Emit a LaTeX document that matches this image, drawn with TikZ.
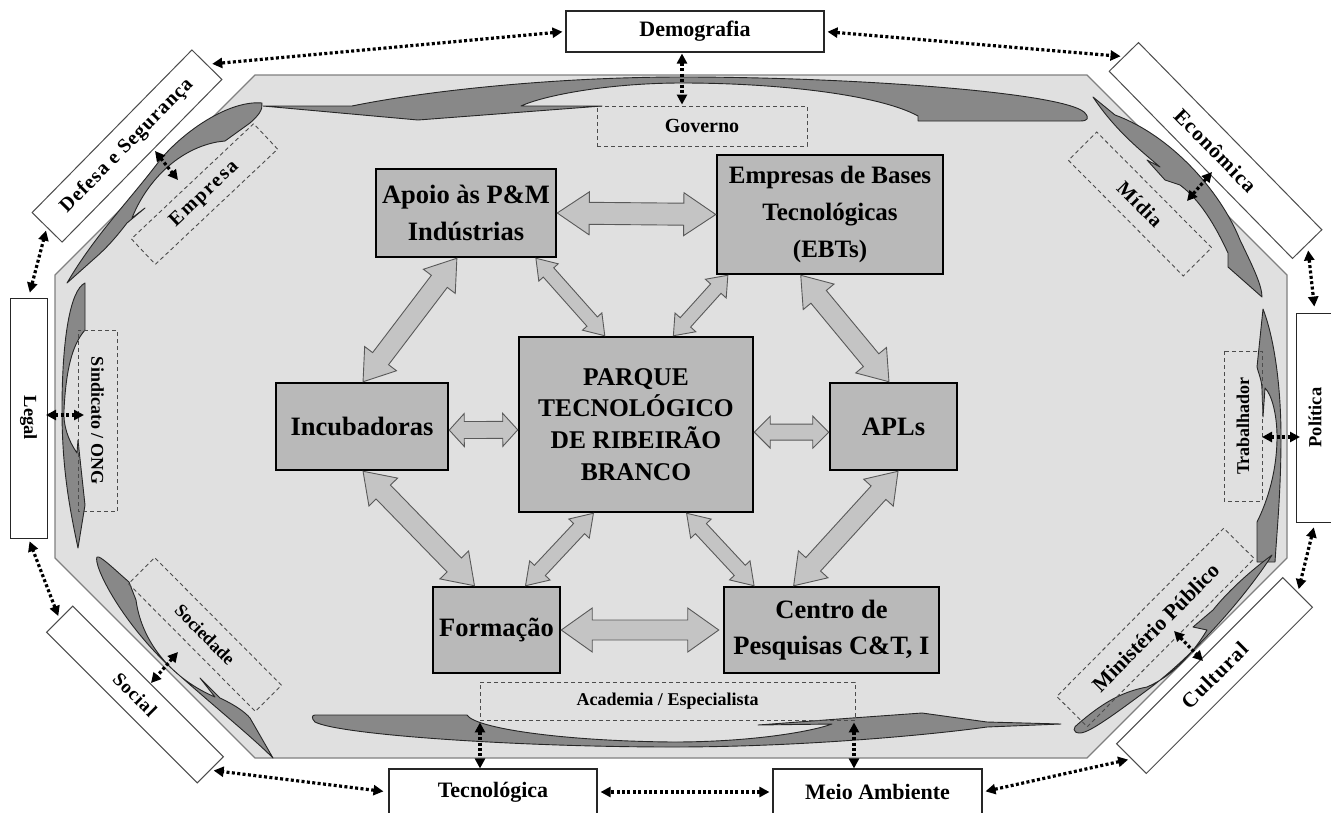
\documentclass[tikz,border=0pt]{standalone}
\usepackage{fontspec}
\setmainfont{Liberation Serif}
\newfontfamily\lsA[LetterSpace=5]{Liberation Serif}
\newfontfamily\lsB[LetterSpace=9]{Liberation Serif}
\usetikzlibrary{calc,arrows.meta}
\definecolor{octfill}{RGB}{224,224,224}
\definecolor{boxfill}{RGB}{185,185,185}
\definecolor{arrfill}{RGB}{196,196,196}
\definecolor{swfill}{RGB}{136,136,136}
\newcommand\fs[2]{\fontsize{#1}{#2}\selectfont}
\tikzset{
  cbox/.style={draw=black, line width=2.5pt, fill=boxfill, inner sep=0pt, align=center, font=\bfseries\fs{26.5}{36.7}},
  obox/.style={draw=black!85, line width=1.1pt, fill=white, inner sep=0pt, font=\bfseries\fs{22}{26}},
  rbox/.style={draw=black!70, line width=1pt, fill=white, inner sep=0pt},
  dbox/.style={draw=black!70, dash pattern=on 4pt off 3pt, line width=0.9pt, inner sep=0pt},
  sw/.style={fill=swfill, draw=black!85, line width=0.9pt, line join=round},
  oct/.style={fill=octfill, draw=black!50, line width=1.2pt},
  dotarr/.style={line width=3.2pt, dash pattern=on 3pt off 2.4pt, {Triangle[length=10pt,width=10pt]}-{Triangle[length=10pt,width=10pt]}},
  barr/.style={fill=arrfill, draw=black!65, line width=0.9pt, line join=miter}
}
% block double arrow: #1,#2 coordinate names; #3 shaft half width; #4 head half width; #5 head length
\newcommand\barrow[5]{%
  \draw[barr] (#1) -- ($(#1)!#5pt!(#2)!#4pt!90:(#2)$) -- ($(#1)!#5pt!(#2)!#3pt!90:(#2)$)
   -- ($(#2)!#5pt!(#1)!#3pt!-90:(#1)$) -- ($(#2)!#5pt!(#1)!#4pt!-90:(#1)$) -- (#2)
   -- ($(#2)!#5pt!(#1)!#4pt!90:(#1)$) -- ($(#2)!#5pt!(#1)!#3pt!90:(#1)$)
   -- ($(#1)!#5pt!(#2)!#3pt!-90:(#2)$) -- ($(#1)!#5pt!(#2)!#4pt!-90:(#2)$) -- cycle;}
\begin{document}
\begin{tikzpicture}[x=1pt,y=-1pt]
\useasboundingbox (0,0) rectangle (1331,812);
\fill[white] (0,0) rectangle (1331,812);
% octagon
\draw[oct] (255,75) -- (1087,75) -- (1287,275) -- (1287,558) -- (1087,758) -- (255,758) -- (55,558) -- (55,275) -- cycle;
% swooshes
\draw[sw] (263,106) -- (352,106) .. controls (430,90) and (560,77) .. (682,77) .. controls (850,77) and (1060,92) .. (1084,112) .. controls (1090,118) and (1088,121) .. (1080,121) -- (918,121) -- (918,116) .. controls (880,95) and (780,83) .. (682,83) .. controls (610,83) and (545,95) .. (521,106) -- (602,106) -- (418,120) -- cycle;
\draw[sw] (262,103) .. controls (230,100) and (185,130) .. (160,160) .. controls (130,200) and (95,235) .. (67,283) -- (95,258) .. controls (110,245) and (120,232) .. (127,223) -- (145,208) -- (132,218) .. controls (145,185) and (175,150) .. (217,142) -- (225,141) -- (250,123) .. controls (258,116) and (263,110) .. (262,103) -- cycle;
\draw[sw] (85,283) .. controls (70,290) and (62,340) .. (62,410) .. controls (62,470) and (70,510) .. (78,548) -- (85,505) -- (81,468) -- (78,440) -- (77,453) .. controls (68,440) and (63,425) .. (64,410) .. controls (66,370) and (72,345) .. (85,330) -- cycle;
\draw[sw] (1263,309) .. controls (1275,340) and (1281,390) .. (1281,437) .. controls (1281,490) and (1277,530) .. (1275,562) -- (1257,562) -- (1257,522) .. controls (1268,500) and (1277,470) .. (1277,437) .. controls (1277,415) and (1272,395) .. (1265,388) -- (1263,417) -- (1262,390) .. controls (1262,380) and (1258,372) .. (1257,367) -- cycle;
\draw[sw] (1272,555) .. controls (1250,590) and (1200,650) .. (1150,688) .. controls (1120,710) and (1090,733) .. (1080,733) .. controls (1072,733) and (1073,727) .. (1078,724) .. controls (1100,705) and (1120,692) .. (1147,687) .. controls (1175,675) and (1195,650) .. (1207,630) -- (1193,627) -- (1213,610) .. controls (1225,595) and (1245,575) .. (1272,555) -- cycle;
\draw[sw] (315,715) -- (467,715) .. controls (475,728) and (560,741) .. (673,742) .. controls (750,742) and (810,732) .. (832,724) -- (758,725) -- (852,718) -- (922,713) -- (987,722) -- (1061,724) -- (987,727) .. controls (930,735) and (800,747) .. (673,747) .. controls (520,747) and (340,735) .. (315,722) .. controls (311,718) and (312,715) .. (315,715) -- cycle;
\draw[sw] (97,557) .. controls (93,565) and (120,620) .. (170,667) .. controls (210,703) and (250,735) .. (273,758) -- (250,718) .. controls (245,712) and (235,705) .. (220,698) -- (200,678) -- (215,697) .. controls (175,680) and (142,645) .. (136,600) -- (129,582) .. controls (115,570) and (100,555) .. (97,557) -- cycle;
\draw[sw] (1093,97) -- (1115,115) .. controls (1170,135) and (1220,190) .. (1240,240) .. controls (1252,265) and (1262,285) .. (1262,297) -- (1228,267) -- (1228,253) .. controls (1215,225) and (1200,200) .. (1180,185) -- (1165,180) -- (1147,160) -- (1160,167) .. controls (1140,150) and (1115,130) .. (1093,97) -- cycle;
% dashed inner boxes
\node[dbox, minimum width=210pt, minimum height=40pt, font=\bfseries\fs{20}{22}] (gov) at (702,126) {Governo};
\node[dbox, minimum width=375pt, minimum height=38pt, font=\bfseries\fs{18}{20}] (acad) at (667.5,701) {Academia / Especialista};
\node[dbox, rotate=-90, minimum width=181pt, minimum height=39pt, font=\bfseries\fs{18}{20}] (sind) at (97.5,420.5) {Sindicato / ONG};
\node[dbox, rotate=90, minimum width=150pt, minimum height=38pt, font=\bfseries\fs{18}{20}] (trab) at (1243,426) {Trabalhador};
\node[dbox, rotate=43.3, minimum width=168pt, minimum height=35pt, font=\lsB\bfseries\fs{20}{22}] (empresa) at (204.5,194) {Empresa};
\node[dbox, rotate=-45.2, minimum width=163pt, minimum height=40pt, font=\lsA\bfseries\fs{20}{22}] (midia) at (1140,204) {Mídia};
\node[dbox, rotate=-45.2, minimum width=180pt, minimum height=37pt, font=\bfseries\fs{18}{20}] (soc) at (205,634.5) {Sociedade};
\node[dbox, rotate=45.2, minimum width=237pt, minimum height=43pt, font=\bfseries\fs{21.5}{23}] (mp) at (1155.5,627.5) {Ministério Público};
% central boxes
\node[cbox, minimum width=180pt, minimum height=88pt] (apoio) at (466,213) {Apoio às P\&M\\Indústrias};
\node[cbox, minimum width=226pt, minimum height=119pt, font=\bfseries\fs{25}{36.7}] (ebt) at (830,214.5) {Empresas de Bases\\Tecnológicas\\(EBTs)};
\node[cbox, minimum width=172pt, minimum height=87pt] (incub) at (362,426.5) {Incubadoras};
\node[cbox, minimum width=234pt, minimum height=175pt, font=\bfseries\fs{25.5}{31.7}] (parque) at (636,424.5) {PARQUE\\TECNOLÓGICO\\DE RIBEIRÃO\\BRANCO};
\node[cbox, minimum width=127pt, minimum height=87pt] (apls) at (893.5,426.5) {APLs};
\node[cbox, minimum width=127pt, minimum height=86pt] (formacao) at (496.5,630) {Formação};
\node[cbox, minimum width=215pt, minimum height=86pt] (centro) at (831.5,630) {Centro de\\Pesquisas C\&T, I};
% block arrow end points
\coordinate (a1s) at (apoio.east);
\coordinate (a1e) at (ebt.west);
\coordinate (a2s) at ($(incub.north east)!0.54!(incub.south east)$);
\coordinate (a2e) at ($(parque.north west)!0.53!(parque.south west)$);
\coordinate (a3s) at ($(parque.north east)!0.543!(parque.south east)$);
\coordinate (a3e) at ($(apls.north west)!0.563!(apls.south west)$);
\coordinate (a4s) at (formacao.east);
\coordinate (a4e) at ($(centro.west)+(-4,0)$);
\coordinate (a5s) at ($(apoio.south west)!0.45!(apoio.south east)$);
\coordinate (a5e) at ($(incub.north west)!0.506!(incub.north east)$);
\coordinate (a6s) at ($(apoio.south west)!0.883!(apoio.south east)$);
\coordinate (a6e) at ($(parque.north west)!0.368!(parque.north east)$);
\coordinate (a7s) at ($(ebt.south west)!0.053!(ebt.south east)$);
\coordinate (a7e) at ($(parque.north west)!0.658!(parque.north east)$);
\coordinate (a8s) at ($(ebt.south west)!0.372!(ebt.south east)$);
\coordinate (a8e) at ($(apls.north west)!0.465!(apls.north east)$);
\coordinate (a9s) at ($(incub.south west)!0.506!(incub.south east)$);
\coordinate (a9e) at ($(formacao.north west)!0.33!(formacao.north east)$);
\coordinate (a10s) at ($(parque.south west)!0.32!(parque.south east)$);
\coordinate (a10e) at ($(formacao.north west)!0.724!(formacao.north east)$);
\coordinate (a11s) at ($(parque.south west)!0.714!(parque.south east)$);
\coordinate (a11e) at ($(centro.north west)!0.144!(centro.north east)$);
\coordinate (a12s) at ($(apls.south west)!0.535!(apls.south east)$);
\coordinate (a12e) at ($(centro.north west)!0.326!(centro.north east)$);
\barrow{a1s}{a1e}{11}{21.5}{32}
\barrow{a2s}{a2e}{8.5}{16.5}{15}
\barrow{a3s}{a3e}{8}{16}{16}
\barrow{a4s}{a4e}{10}{22}{31}
\barrow{a5s}{a5e}{10}{20}{29}
\barrow{a6s}{a6e}{7}{13}{19}
\barrow{a7s}{a7e}{7}{14}{18}
\barrow{a8s}{a8e}{10}{20}{28}
\barrow{a9s}{a9e}{10}{20}{29}
\barrow{a10s}{a10e}{7.5}{14}{21}
\barrow{a11s}{a11e}{7.5}{14}{21}
\barrow{a12s}{a12e}{10}{20}{29}
% outer boxes
\node[obox, minimum width=258pt, minimum height=41pt] (demo) at (695,31.5) {Demografia};
\node[obox, minimum width=208pt, minimum height=46pt] (tecno) at (493,792) {Tecnológica};
\node[obox, minimum width=209pt, minimum height=46pt] (meio) at (877.5,792) {Meio Ambiente};
\node[rbox, draw=black!85, rotate=-90, minimum width=240pt, minimum height=37pt, font=\bfseries\fs{18.5}{20}] (legal) at (28.5,418) {Legal};
\node[rbox, draw=black!85, rotate=90, minimum width=209pt, minimum height=38pt, font=\bfseries\fs{18.5}{20}] (polit) at (1315,417.5) {Política};
\node[rbox, rotate=45.5, minimum width=228pt, minimum height=42pt, font=\lsA\bfseries\fs{20}{22}] (defesa) at (127,146) {Defesa e Segurança};
\node[rbox, rotate=-45.6, minimum width=262pt, minimum height=41pt, font=\lsA\bfseries\fs{21}{23}] (econ) at (1215.5,150.5) {Econômica};
\node[rbox, rotate=-45, minimum width=213pt, minimum height=37pt, font=\lsA\bfseries\fs{19}{21}] (social) at (135,694.5) {Social};
\node[rbox, rotate=45, minimum width=235pt, minimum height=42pt, font=\lsA\bfseries\fs{21}{23}] (cultural) at (1214.5,675.5) {Cultural};
% dotted connectors between outer boxes
\draw[dotarr, shorten <=3pt, shorten >=5pt] (demo.west) -- (defesa.east);
\draw[dotarr, shorten <=3pt, shorten >=3pt] (demo.east) -- (econ.west);
\draw[dotarr, shorten <=6pt, shorten >=6pt] (econ.east) -- (polit.east);
\draw[dotarr, shorten <=5pt, shorten >=3pt] (polit.west) -- (cultural.east);
\draw[dotarr, shorten <=3pt, shorten >=3pt] (cultural.west) -- (meio.east);
\draw[dotarr, shorten <=3pt, shorten >=3pt] (meio.west) -- (tecno.east);
\draw[dotarr, shorten <=5pt, shorten >=3pt] (tecno.west) -- (social.east);
\draw[dotarr, shorten <=3pt, shorten >=3pt] (social.west) -- (legal.east);
\draw[dotarr, shorten <=5pt, shorten >=3pt] (legal.west) -- (defesa.west);
% short crossing connectors
\coordinate (k1) at (682,0);
\coordinate (k2) at (480,0);
\coordinate (k3) at (854,0);
\draw[dotarr, shorten <=1pt, shorten >=1pt] (demo.south -| k1) -- (gov.north -| k1);
\draw[dotarr, shorten <=2pt] (acad.south -| k2) -- (tecno.north -| k2);
\draw[dotarr, shorten <=2pt] (acad.south -| k3) -- (meio.north -| k3);
\coordinate (x1a) at (155,151); \coordinate (x1b) at (178,180);
\coordinate (x2a) at (1212,172); \coordinate (x2b) at (1187,201);
\coordinate (x3a) at (46,415); \coordinate (x3b) at (84,415);
\coordinate (x4a) at (1262,437); \coordinate (x4b) at (1300,437);
\coordinate (x5a) at (1174,631); \coordinate (x5b) at (1203,661);
\coordinate (x6a) at (178,652); \coordinate (x6b) at (151,683);
\draw[dotarr] (x1a) -- (x1b);
\draw[dotarr] (x2a) -- (x2b);
\draw[dotarr] (x3a) -- (x3b);
\draw[dotarr] (x4a) -- (x4b);
\draw[dotarr] (x5a) -- (x5b);
\draw[dotarr] (x6a) -- (x6b);
\end{tikzpicture}
\end{document}
